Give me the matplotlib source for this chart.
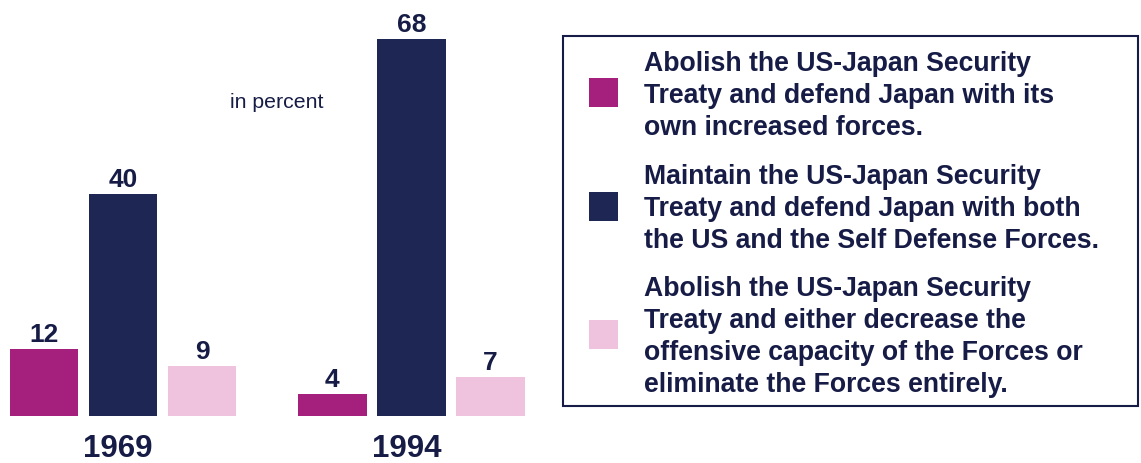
import matplotlib
matplotlib.use("Agg")
import matplotlib.pyplot as plt
from matplotlib.patches import Rectangle
from matplotlib.transforms import blended_transform_factory

# ── data ───────────────────────────────────────────────────────────────────
years = ["1969", "1994"]
abolish_own = [12, 4]
maintain_treaty = [40, 68]
abolish_reduce = [9, 7]

legend_lines = [
    ["Abolish the US-Japan Security",
     "Treaty and defend Japan with its",
     "own increased forces."],
    ["Maintain the US-Japan Security",
     "Treaty and defend Japan with both",
     "the US and the Self Defense Forces."],
    ["Abolish the US-Japan Security",
     "Treaty and either decrease the",
     "offensive capacity of the Forces or",
     "eliminate the Forces entirely."],
]

MAGENTA = "#a51f7d"
NAVY = "#1e2654"
PINK = "#efc2dd"
TEXT = "#161c45"
colors = [MAGENTA, NAVY, PINK]

plt.rcParams["font.family"] = ["Liberation Sans", "DejaVu Sans"]

W, H = 1141, 463
fig = plt.figure(figsize=(W / 100, H / 100), dpi=100)


def fx(x):
    return x / W


def fy(y):
    return 1 - y / H


# ── bars ───────────────────────────────────────────────────────────────────
ax = fig.add_axes([0, fy(416), fx(540), 416 / H])
ax.set_xlim(-1.557, 5.28)
ax.set_ylim(0, 416 / 5.55)
ax.axis("off")

group_x = [0, 3.65]
series = [abolish_own, maintain_treaty, abolish_reduce]
for i, (vals, c) in enumerate(zip(series, colors)):
    xs = [g + (i - 1) for g in group_x]
    ax.bar(xs, vals, width=0.87, color=c, linewidth=0)
    for x, v in zip(xs, vals):
        ax.annotate(f"{v}", (x, v), xytext=(0, 5), textcoords="offset points",
                    ha="center", va="baseline", fontsize=19,
                    fontweight="bold", color=TEXT)

tr = blended_transform_factory(ax.transData, fig.transFigure)
for g, yr in zip(group_x, years):
    ax.text(g - 0.06, fy(457), yr, transform=tr, ha="center", va="baseline",
            fontsize=22.5, fontweight="bold", color=TEXT)

fig.text(fx(230), fy(108), "in percent", ha="left", va="baseline",
         fontsize=15.3, color=TEXT)

# ── legend box ─────────────────────────────────────────────────────────────
fig.patches.append(Rectangle((fx(563), fy(406)), fx(1138 - 563), (406 - 36) / H,
                             transform=fig.transFigure, fill=False,
                             edgecolor=TEXT, linewidth=1.5))

first_base = [71, 184, 296]
square_top = [78, 192, 320]
for lines, c, b0, st in zip(legend_lines, colors, first_base, square_top):
    fig.patches.append(Rectangle((fx(589), fy(st + 29)), fx(29), 29 / H,
                                 transform=fig.transFigure, facecolor=c,
                                 linewidth=0))
    for k, line in enumerate(lines):
        fig.text(fx(644), fy(b0 + 32 * k), line, ha="left", va="baseline",
                 fontsize=19.2, fontweight="bold", color=TEXT)

fig.savefig("out.png", dpi=100)
